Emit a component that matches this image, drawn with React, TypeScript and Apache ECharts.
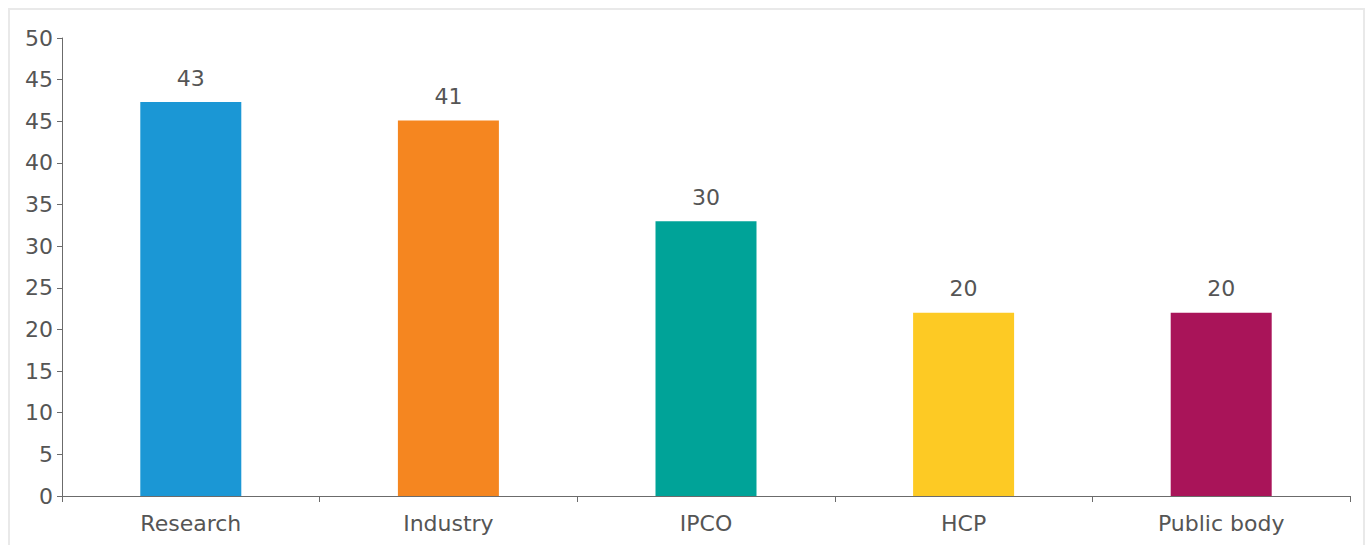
import React, { useEffect, useRef } from "react";
import * as echarts from "echarts";

const categories = ["Research", "Industry", "IPCO", "HCP", "Public body"];
const values = [43, 41, 30, 20, 20];
const colors = ["#1B97D5", "#F58620", "#00A398", "#FDCA24", "#A91459"];
const tickLabels = ["0", "5", "10", "15", "20", "25", "30", "35", "40", "45", "45", "50"];
const axisMax = 50;

export default function App() {
  const ref = useRef<HTMLDivElement>(null);
  useEffect(() => {
    if (!ref.current) return;
    const chart = echarts.init(ref.current, null, { renderer: "svg" });
    const step = axisMax / (tickLabels.length - 1);
    chart.setOption({
      animation: false,
      textStyle: { fontFamily: "DejaVu Sans" },
      graphic: [
        {
          type: "rect",
          shape: { x: 9, y: 9, width: 1355, height: 600 },
          style: { fill: "none", stroke: "#e9e9e9", lineWidth: 2 },
          silent: true,
        },
      ],
      grid: { left: 62, top: 38, right: 16, bottom: 49, containLabel: false },
      xAxis: {
        type: "category",
        data: categories,
        axisLine: { lineStyle: { color: "#6b6b6b", width: 1 } },
        axisTick: { show: true, length: 6, alignWithLabel: false, lineStyle: { color: "#6b6b6b" } },
        axisLabel: { color: "#555", fontSize: 22, margin: 16, fontFamily: "DejaVu Sans" },
      },
      yAxis: {
        type: "value",
        min: 0,
        max: axisMax,
        interval: step,
        splitLine: { show: false },
        axisLine: { show: true, lineStyle: { color: "#6b6b6b", width: 1 } },
        axisTick: { show: true, length: 5, lineStyle: { color: "#6b6b6b" } },
        axisLabel: {
          color: "#555",
          fontSize: 22,
          margin: 9,
          fontFamily: "DejaVu Sans",
          formatter: (v: number) => tickLabels[Math.round(v / step)] ?? "",
        },
      },
      series: [
        {
          type: "bar",
          barWidth: 101,
          data: values.map((v, i) => ({ value: v, itemStyle: { color: colors[i] } })),
          label: {
            show: true,
            position: "top",
            distance: 13,
            color: "#555",
            fontSize: 22,
            fontFamily: "DejaVu Sans",
          },
        },
      ],
    });
    return () => chart.dispose();
  }, []);
  return (
    <div
      ref={ref}
      style={{ position: "fixed", left: 0, top: 0, width: 1366, height: 545, background: "#fff" }}
    />
  );
}
